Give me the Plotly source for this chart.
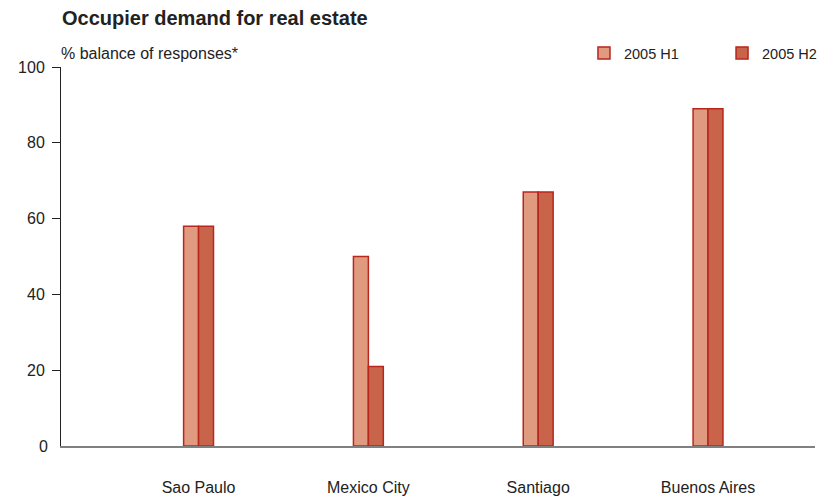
import plotly.graph_objects as go

# Occupier demand survey, % balance of responses
cities = ["Sao Paulo", "Mexico City", "Santiago", "Buenos Aires"]
h1_2005 = [58, 50, 67, 89]
h2_2005 = [58, 21, 67, 89]
y_ticks = [20, 40, 60, 80, 100]  # ticked values
y_base = 0                       # baseline label, drawn without a tick mark

FONT = "Liberation Sans, Arial, Helvetica, sans-serif"
TEXT = "#222222"
OUTLINE = "#b8261c"

fig = go.Figure()
fig.add_trace(go.Bar(
    name="2005 H1", x=cities, y=h1_2005, legend="legend",
    marker=dict(color="#e09a80", line=dict(color=OUTLINE, width=1.5)),
))
fig.add_trace(go.Bar(
    name="2005 H2", x=cities, y=h2_2005, legend="legend2",
    marker=dict(color="#c8644a", line=dict(color=OUTLINE, width=1.5)),
))

legend_style = dict(
    orientation="h", y=1.037, yanchor="middle", xanchor="left",
    font=dict(size=14.5), itemwidth=30, bgcolor="rgba(0,0,0,0)",
)

fig.update_layout(
    width=835, height=500,
    margin=dict(l=61, r=20, t=67, b=54),
    paper_bgcolor="white", plot_bgcolor="white",
    font=dict(family=FONT, size=16, color=TEXT),
    barmode="group", bargap=0.824, bargroupgap=0,
    showlegend=True,
    legend=dict(x=0.6936, **legend_style),
    legend2=dict(x=0.8767, **legend_style),
    title=dict(
        text="<b>Occupier demand for real estate</b>",
        x=62 / 835, xanchor="left", y=1 - 18 / 500, yanchor="middle",
        font=dict(size=20, color=TEXT),
    ),
    annotations=[
        dict(
            text="% balance of responses*", xref="paper", yref="paper",
            x=0, xanchor="left", y=1.0, yanchor="bottom", yshift=3, xshift=-2,
            showarrow=False, font=dict(size=16, color=TEXT),
        ),
        dict(
            text=str(y_base), xref="paper", yref="y",
            x=0, xanchor="right", y=y_base, yanchor="middle", xshift=-11,
            showarrow=False, font=dict(size=16, color=TEXT),
        ),
    ],
    xaxis=dict(
        type="category", range=[-0.81, 3.63],
        showline=True, linecolor="#808080", linewidth=1.5,
        ticks="", showgrid=False, zeroline=False,
        ticklabelstandoff=26, automargin=False,
    ),
    yaxis=dict(
        range=[0, 100], tickvals=y_ticks,
        showline=True, linecolor=TEXT, linewidth=1,
        ticks="outside", ticklen=8, tickcolor=TEXT, tickwidth=1,
        showgrid=False, zeroline=False,
        ticklabelstandoff=4, automargin=False,
    ),
)

fig.write_html("out.html")
